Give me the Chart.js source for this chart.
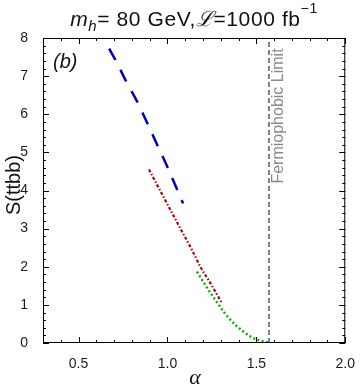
<!DOCTYPE html>
<html>
<head>
<meta charset="utf-8">
<script src="https://cdn.jsdelivr.net/npm/chart.js@4.4.0/dist/chart.umd.min.js"></script>
<style>
  html, body { margin: 0; padding: 0; background: #fff; }
  #wrap { position: relative; width: 360px; height: 390px; }
</style>
</head>
<body>
<div id="wrap"><canvas id="chart" width="360" height="390"></canvas></div>
<script>
// values
const blueAlpha = [0.672, 0.709, 0.770, 0.835, 0.894, 0.950, 1.006, 1.061, 1.088];
const blueS     = [7.72, 7.41, 6.84, 6.28, 5.69, 5.12, 4.55, 3.95, 3.66];

const redAlpha = [0.896, 1.073, 1.138, 1.185, 1.231, 1.305];
const redS     = [4.55, 3.00, 2.44, 2.00, 1.65, 1.06];

const greenAlpha = [1.166, 1.231, 1.277, 1.323, 1.370, 1.416, 1.463, 1.508, 1.564];
const greenS     = [1.87, 1.39, 1.08, 0.78, 0.53, 0.34, 0.18, 0.08, 0.02];

const limitAlpha = Math.PI / 2;
const limitS = [0, 8];

const xTicks = [0.5, 1.0, 1.5, 2.0];
const yTicks = [0, 1, 2, 3, 4, 5, 6, 7, 8];

const pts = (xs, ys) => xs.map((x, i) => ({ x: x, y: ys[i] }));

const labelFont = '"Liberation Sans", Arial, sans-serif';

// frame with inward ticks on all four sides, plus the text annotations
const framePlugin = {
    id: 'frame',
    afterDraw(chart) {
        const ctx = chart.ctx;
        const a = chart.chartArea;
        const xs = chart.scales.x;
        const ys = chart.scales.y;
        ctx.save();
        ctx.strokeStyle = '#000';
        ctx.lineWidth = 1;
        ctx.strokeRect(a.left + 0.5, a.top + 0.5, a.right - a.left - 1, a.bottom - a.top - 1);

        ctx.beginPath();
        for (let i = 3; i <= 20; i++) {
            const v = i / 10;
            const px = Math.round(xs.getPixelForValue(v)) + 0.5;
            const len = (i % 5 === 0) ? 6 : 3;
            ctx.moveTo(px, a.bottom); ctx.lineTo(px, a.bottom - len);
            ctx.moveTo(px, a.top); ctx.lineTo(px, a.top + len);
        }
        for (let i = 0; i <= 40; i++) {
            const v = i / 5;
            const py = Math.round(ys.getPixelForValue(v)) + 0.5;
            const len = (i % 5 === 0) ? 6 : 3;
            ctx.moveTo(a.left, py); ctx.lineTo(a.left + len, py);
            ctx.moveTo(a.right, py); ctx.lineTo(a.right - len, py);
        }
        ctx.stroke();

        // title: m_h= 80 GeV, L=1000 fb^-1
        const runs = [
            { t: 'm', f: 'italic 21px ' + labelFont, dy: 0 },
            { t: 'h', f: 'italic 15px ' + labelFont, dy: 5 },
            { t: '= 80 GeV,', f: '21px ' + labelFont, dy: 0 },
            { t: '\u2112', f: 'italic 21px "DejaVu Serif", serif', dy: 0 },
            { t: '=1000 fb', f: '21px ' + labelFont, dy: 0 },
            { t: '\u22121', f: '14px ' + labelFont, dy: -13 }
        ];
        ctx.letterSpacing = '0.6px';
        let total = 0;
        runs.forEach(r => { ctx.font = r.f; r.w = ctx.measureText(r.t).width; total += r.w; });
        let x = 194 - total / 2;
        ctx.fillStyle = '#111';
        ctx.textBaseline = 'alphabetic';
        ctx.textAlign = 'left';
        runs.forEach(r => { ctx.font = r.f; ctx.fillText(r.t, x, 26 + r.dy); x += r.w; });
        ctx.letterSpacing = '0px';

        // panel label
        ctx.font = 'italic 20px ' + labelFont;
        ctx.fillText('(b)', 53, 68);

        // axis titles
        ctx.font = 'italic 22px "Liberation Serif", serif';
        ctx.textAlign = 'center';
        ctx.fillText('\u03b1', 195, 384);

        ctx.save();
        ctx.translate(20, 185);
        ctx.rotate(-Math.PI / 2);
        ctx.font = '20px ' + labelFont;
        ctx.fillText('S(ttbb)', 0, 0);
        ctx.restore();

        // fermiophobic limit label
        ctx.save();
        ctx.translate(283, 116);
        ctx.rotate(-Math.PI / 2);
        ctx.font = '16px ' + labelFont;
        ctx.fillStyle = '#8a8a8a';
        ctx.fillText('Fermiophobic Limit', 0, 0);
        ctx.restore();

        ctx.restore();
    }
};

new Chart(document.getElementById('chart'), {
    type: 'scatter',
    data: {
        datasets: [
            {
                label: 'blue',
                data: pts(blueAlpha, blueS),
                showLine: true,
                borderColor: 'rgb(0, 0, 190)',
                borderWidth: 2.5,
                borderDash: [13, 11],
                pointRadius: 0,
                cubicInterpolationMode: 'monotone'
            },
            {
                label: 'red',
                data: pts(redAlpha, redS),
                showLine: true,
                borderColor: 'rgb(180, 0, 0)',
                borderWidth: 2.2,
                borderDash: [3, 2, 1.5, 2],
                pointRadius: 0,
                cubicInterpolationMode: 'monotone'
            },
            {
                label: 'green',
                data: pts(greenAlpha, greenS),
                showLine: true,
                borderColor: 'rgb(0, 180, 0)',
                borderWidth: 2.4,
                borderDash: [2, 2.4],
                pointRadius: 0,
                cubicInterpolationMode: 'monotone'
            },
            {
                label: 'limit',
                data: limitS.map(s => ({ x: limitAlpha, y: s })),
                showLine: true,
                borderColor: '#808080',
                borderWidth: 2,
                borderDash: [5, 3],
                pointRadius: 0
            }
        ]
    },
    options: {
        responsive: false,
        animation: false,
        events: [],
        layout: { padding: { top: 38, right: 12, left: 0, bottom: 0 } },
        plugins: {
            legend: { display: false },
            tooltip: { enabled: false },
            title: { display: false }
        },
        scales: {
            x: {
                type: 'linear',
                min: 0.3,
                max: 2.0,
                grid: { display: false },
                border: { display: false },
                afterBuildTicks: (s) => { s.ticks = xTicks.map(v => ({ value: v })); },
                afterFit: (s) => { s.height = 47; },
                ticks: {
                    padding: 5,
                    color: '#1a1a1a',
                    font: { family: labelFont, size: 14 },
                    callback: (v) => Number(v).toFixed(1)
                }
            },
            y: {
                type: 'linear',
                min: 0,
                max: 8,
                grid: { display: false },
                border: { display: false },
                afterBuildTicks: (s) => { s.ticks = yTicks.map(v => ({ value: v })); },
                afterFit: (s) => { s.width = 43; },
                ticks: {
                    padding: 7,
                    color: '#1a1a1a',
                    font: { family: labelFont, size: 14 },
                    callback: (v) => String(v)
                }
            }
        }
    },
    plugins: [framePlugin]
});
</script>
</body>
</html>
